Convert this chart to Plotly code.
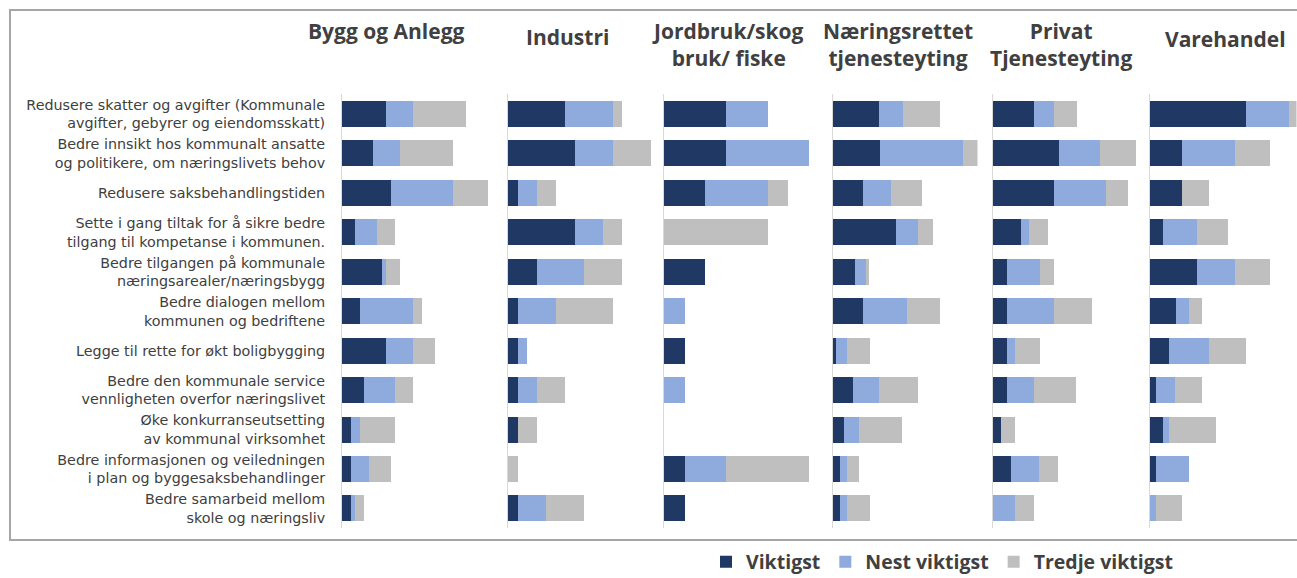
import plotly.graph_objects as go

categories = [
    "Redusere skatter og avgifter (Kommunale<br>avgifter, gebyrer og eiendomsskatt)",
    "Bedre innsikt hos kommunalt ansatte<br>og politikere, om næringslivets behov",
    "Redusere saksbehandlingstiden",
    "Sette i gang tiltak for å sikre bedre<br>tilgang til kompetanse i kommunen.",
    "Bedre tilgangen på kommunale<br>næringsarealer/næringsbygg",
    "Bedre dialogen mellom<br>kommunen og bedriftene",
    "Legge til rette for økt boligbygging",
    "Bedre den kommunale service<br>vennligheten overfor næringslivet",
    "Øke konkurranseutsetting<br>av kommunal virksomhet",
    "Bedre informasjonen og veiledningen<br>i plan og byggesaksbehandlinger",
    "Bedre samarbeid mellom<br>skole og næringsliv",
]

sectors = ["Bygg og Anlegg", "Industri", "Jordbruk/skog<br>bruk/ fiske",
           "Næringsrettet<br>tjenesteyting", "Privat<br>Tjenesteyting", "Varehandel"]

series_names = ["Viktigst", "Nest viktigst", "Tredje viktigst"]

# values per sector: [viktigst, nest viktigst, tredje viktigst]
bygg_viktigst = [10, 7, 11, 3, 9, 4, 10, 5, 2, 2, 2]
bygg_nest = [6, 6, 14, 5, 1, 12, 6, 7, 2, 4, 1]
bygg_tredje = [12, 12, 8, 4, 3, 2, 5, 4, 8, 5, 2]

industri_viktigst = [6, 7, 1, 7, 3, 1, 1, 1, 1, 0, 1]
industri_nest = [5, 4, 2, 3, 5, 4, 1, 2, 0, 0, 3]
industri_tredje = [1, 4, 2, 2, 4, 6, 0, 3, 2, 1, 4]

jordbruk_viktigst = [3, 3, 2, 0, 2, 0, 1, 0, 0, 1, 1]
jordbruk_nest = [2, 4, 3, 0, 0, 1, 0, 1, 0, 2, 0]
jordbruk_tredje = [0, 0, 1, 5, 0, 0, 0, 0, 0, 4, 0]

naering_viktigst = [12.6, 13, 8.4, 17.5, 6, 8.4, 0.8, 5.4, 3.1, 2, 2]
naering_nest = [6.8, 23, 7.6, 6, 3, 12.1, 3, 7.3, 4.2, 1.8, 1.8]
naering_tredje = [10.2, 4, 8.7, 4.2, 1.1, 9, 6.4, 10.9, 11.9, 3.3, 6.4]

privat_viktigst = [15, 24, 22, 10, 5, 5, 5, 5, 3, 6.4, 0]
privat_nest = [7, 15, 19, 3, 12, 17, 3, 10, 0, 10.4, 8]
privat_tredje = [8.4, 13, 8, 7, 5, 14, 9, 15, 5, 6.9, 7]

vare_viktigst = [15, 5.1, 5.1, 2.1, 7.3, 4.1, 3, 1, 2.1, 1, 0]
vare_nest = [6.9, 8.2, 0, 5.2, 6, 2.1, 6.2, 3, 0.9, 5.2, 1]
vare_tredje = [1.1, 5.5, 4.1, 4.9, 5.5, 1.9, 5.8, 4.1, 7.3, 0, 4.1]

sector_data = [
    (bygg_viktigst, bygg_nest, bygg_tredje),
    (industri_viktigst, industri_nest, industri_tredje),
    (jordbruk_viktigst, jordbruk_nest, jordbruk_tredje),
    (naering_viktigst, naering_nest, naering_tredje),
    (privat_viktigst, privat_nest, privat_tredje),
    (vare_viktigst, vare_nest, vare_tredje),
]

colors = ["#203864", "#8faadc", "#bfbfbf"]

W, H = 1297, 578
# panel pixel extents (layout)
panel_px = [(342, 488), (508, 651), (664, 809), (833, 977.5), (993, 1136), (1150, 1296.5)]
title_pos = [(387, 31), (567, 37), (728, 44), (898, 45), (1061, 45), (1225, 39)]
y_top, y_bot = 94.3, 528.2

fig = go.Figure()
for p, vals in enumerate(sector_data):
    for s in range(3):
        fig.add_trace(go.Bar(
            y=categories, x=vals[s], orientation="h",
            name=series_names[s], marker=dict(color=colors[s], line=dict(width=0)),
            legendgroup=series_names[s], showlegend=(p == 0),
            xaxis="x" if p == 0 else f"x{p+1}",
            yaxis="y" if p == 0 else f"y{p+1}",
        ))

layout = dict(
    width=W, height=H, margin=dict(l=0, r=0, t=0, b=0, autoexpand=False),
    paper_bgcolor="white", plot_bgcolor="white",
    barmode="stack", bargap=0.34,
    showlegend=True,
    legend=dict(orientation="h", x=706 / W, xanchor="left", y=1 - 562 / H, yanchor="middle",
                font=dict(family="Open Sans", size=19.5, color="#404040", weight="bold"),
                traceorder="normal", itemclick=False),
    font=dict(family="Open Sans", color="#404040"),
)

for p in range(6):
    x0, x1 = panel_px[p]
    vals = sector_data[p]
    totals = [a + b + c for a, b, c in zip(*vals)]
    xa = "xaxis" if p == 0 else f"xaxis{p+1}"
    ya = "yaxis" if p == 0 else f"yaxis{p+1}"
    layout[xa] = dict(domain=[x0 / W, x1 / W], range=[0, max(totals)], visible=False,
                      anchor="y" if p == 0 else f"y{p+1}", fixedrange=True)
    layout[ya] = dict(domain=[1 - y_bot / H, 1 - y_top / H],
                      anchor="x" if p == 0 else f"x{p+1}",
                      type="category", categoryorder="array", categoryarray=categories,
                      range=[len(categories) - 0.5, -0.5],
                      showline=True, linecolor="#d9d9d9", linewidth=1,
                      showgrid=False, zeroline=False, ticks="",
                      showticklabels=(p == 0), ticklabelstandoff=13,
                      tickfont=dict(family="DejaVu Sans", size=14.3, color="#404040"),
                      automargin=False, fixedrange=True)

fig.update_layout(**layout)

for p, name in enumerate(sectors):
    tx, ty = title_pos[p]
    fig.add_annotation(text=f"<b>{name}</b>", x=tx / W, y=1 - ty / H, xref="paper", yref="paper",
                       xanchor="center", yanchor="middle", showarrow=False,
                       font=dict(family="Open Sans", size=21, color="#404040"))

# outer chart frame
fig.add_shape(type="rect", xref="paper", yref="paper",
              x0=10 / W, x1=1.02, y0=1 - 540 / H, y1=1 - 10 / H,
              line=dict(color="#a6a6a6", width=2), fillcolor="rgba(0,0,0,0)", layer="below")

fig.write_html("out.html", config={"displayModeBar": False},
               post_script="document.body.style.margin='0';document.body.style.overflow='hidden';")
